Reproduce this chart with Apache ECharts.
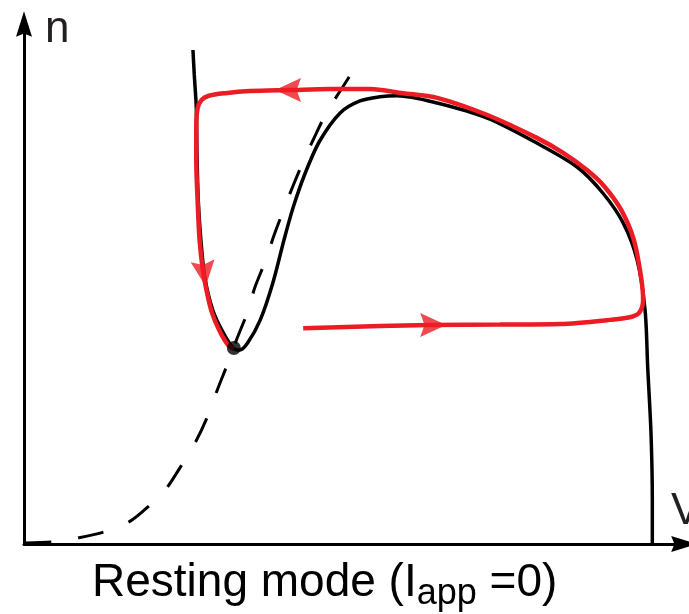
<!DOCTYPE html>
<html>
<head>
<meta charset="utf-8">
<title>Resting mode</title>
<script src="https://cdn.jsdelivr.net/npm/echarts@6/dist/echarts.min.js"></script>
<style>
  html, body { margin: 0; padding: 0; background: #fff; }
  #chart { width: 689px; height: 614px; }
</style>
</head>
<body>
<div id="chart"></div>
<script>
// V-nullcline (black), [V, n]
var vNullcline = [
  [25.6, 95.0], [25.8, 90.2], [26.1, 84.0], [26.2, 75.8], [26.4, 66.2],
  [26.8, 58.5], [27.4, 51.3], [28.6, 45.0], [30.2, 40.6], [31.7, 37.7],
  [32.7, 37.3], [33.9, 38.7], [35.8, 43.1], [37.7, 50.2], [39.4, 58.5],
  [40.8, 64.8], [42.6, 71.3], [44.8, 77.5], [47.9, 82.9], [50.9, 85.2],
  [53.9, 86.0], [56.5, 86.2], [62.6, 84.8], [70.2, 81.9], [77.7, 77.1],
  [83.8, 72.5], [87.7, 67.5], [90.8, 61.7], [92.9, 54.6], [94.1, 45.0],
  [94.5, 34.0], [95.0, 21.3], [95.2, 8.5], [95.2, 0]
];

// n-nullcline (dashed)
var nNullcline = [
  [0.2, 0.2], [4.2, 0.4], [8.3, 1.2], [12.1, 2.3], [16.1, 4.4],
  [19.1, 7.5], [21.4, 10.4], [23.6, 14.6], [25.9, 19.4], [27.7, 24.2],
  [29.4, 30.0], [30.9, 34.8], [32.3, 39.6], [33.8, 44.4], [35.0, 49.4],
  [36.5, 54.2], [37.9, 59.4], [39.2, 63.8], [40.8, 69.0], [42.3, 73.5],
  [44.1, 78.5], [45.9, 83.1], [48.2, 87.7], [50.2, 91.7]
];

// trajectory (red)
var trajectory = [
  [42.3, 41.5], [53.9, 41.9], [61.5, 42.1], [72.1, 42.2], [81.2, 42.3],
  [88.8, 43.1], [92.1, 43.7], [93.3, 44.6], [93.8, 46.9], [93.5, 51.3],
  [92.4, 58.5], [90.5, 64.2], [87.9, 68.8], [85.3, 71.9], [81.7, 75.2],
  [77.7, 78.1], [70.2, 82.5], [62.6, 85.8], [57.4, 86.7], [52.4, 87.5],
  [46.4, 87.5], [40.3, 87.3], [34.2, 87.1], [30.5, 86.7], [28.0, 86.2],
  [26.9, 85.4], [26.3, 83.8], [26.1, 80.0], [26.1, 73.8], [26.3, 66.2],
  [26.6, 58.5], [27.1, 52.7], [27.7, 48.5], [28.5, 44.4], [29.7, 40.8],
  [30.9, 38.3], [31.8, 37.5]
];

// arrow heads on trajectory: [V, n, rotation]
var arrowHeads = [
  [40.0, 87.3, 90],
  [27.3, 52.0, 187],
  [62.0, 42.1, -90]
];

// fixed point
var restPoint = [[31.8, 37.7]];

var font = '"Liberation Sans", Arial, Helvetica, sans-serif';
var red = '#ec1c24';
var axisArrow = 'path://M5,0L10,16L5,14L0,16Z';
var flowArrow = 'path://M5,0L10,12L5,10L0,12Z';

var chart = echarts.init(document.getElementById('chart'));

function axis() {
  return {
    type: 'value',
    min: 0,
    max: 100,
    axisLine: {
      lineStyle: { color: '#000', width: 3 },
      symbol: ['none', axisArrow],
      symbolSize: [16, 28]
    },
    axisTick: { show: false },
    axisLabel: { show: false },
    splitLine: { show: false }
  };
}

chart.setOption({
  animation: false,
  grid: { left: 24, right: 5, top: 24, bottom: 70 },
  xAxis: axis(),
  yAxis: axis(),
  series: [
    {
      type: 'line',
      data: nNullcline,
      smooth: 0.3,
      symbol: 'none',
      lineStyle: { color: '#000', width: 3, type: [26, 27] },
      z: 1
    },
    {
      type: 'line',
      data: vNullcline,
      smooth: 0.3,
      symbol: 'none',
      lineStyle: { color: '#000', width: 3.5 },
      z: 2
    },
    {
      type: 'line',
      data: trajectory,
      smooth: 0.3,
      symbol: 'none',
      lineStyle: { color: red, width: 4.5 },
      z: 3
    },
    {
      type: 'scatter',
      data: arrowHeads.map(function (a) {
        return { value: [a[0], a[1]], symbolRotate: a[2] };
      }),
      symbol: flowArrow,
      symbolKeepAspect: false,
      symbolSize: [24, 26],
      itemStyle: { color: red },
      z: 4
    },
    {
      type: 'scatter',
      data: restPoint,
      symbolSize: 14,
      itemStyle: { color: '#000' },
      z: 5
    }
  ],
  graphic: [
    {
      type: 'text',
      x: 45,
      y: 30,
      style: { text: 'n', font: '44px ' + font, fill: '#231f20', verticalAlign: 'middle' }
    },
    {
      type: 'text',
      x: 671,
      y: 512,
      style: { text: 'V', font: '44px ' + font, fill: '#231f20', verticalAlign: 'middle' }
    },
    {
      type: 'text',
      x: 92,
      y: 558,
      style: {
        text: '{m|Resting mode (I}{s|app}{m| =0)}',
        verticalAlign: 'top',
        rich: {
          m: { fontSize: 46, fontFamily: font, lineHeight: 50, color: '#231f20' },
          s: { fontSize: 36, fontFamily: font, lineHeight: 36, color: '#231f20', padding: [22, 0, 0, 0] }
        }
      }
    }
  ]
});
</script>
</body>
</html>
